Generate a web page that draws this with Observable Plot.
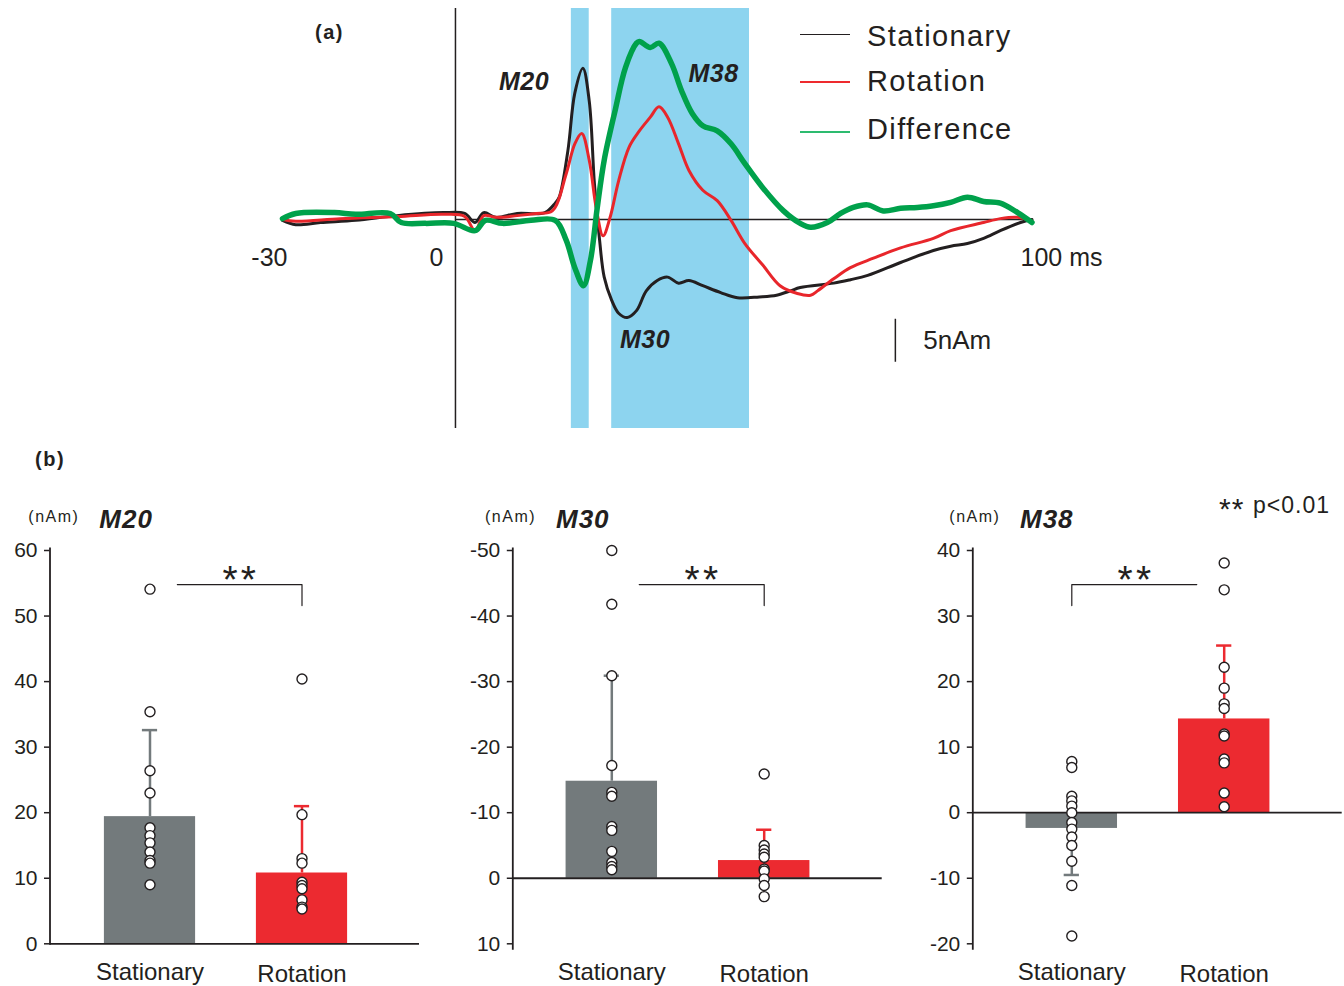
<!DOCTYPE html>
<html>
<head>
<meta charset="utf-8">
<script src="https://cdn.jsdelivr.net/npm/d3@7"></script>
<script src="https://cdn.jsdelivr.net/npm/@observablehq/plot@0.6"></script>
<style>
html,body{margin:0;padding:0;background:#fff;}
#root{position:relative;width:1344px;height:986px;overflow:hidden;font-family:"Liberation Sans",Arial,Helvetica,sans-serif;color:#231f20;}
#root svg{position:absolute;overflow:visible;}
</style>
</head>
<body>
<div id="root"></div>
<script>
// ---------------- Panel (a): time (ms), amplitude (nAm) ----------------
const stationary = [
[-30,-0.1],[-27.7,-0.6],[-23.4,-0.35],[-17.3,-0.1],[-10.1,0.45],[-2.1,0.8],[1.6,0.7],[3.4,-0.35],[4.9,0.8],[7.0,0.25],[10.7,0.7],[15.5,0.8],[17.3,1.9],[18.0,2.6],[19.5,8.0],[20.7,14.7],[22.1,17.6],[23.2,13.8],[24.1,4.2],[25.0,-2.4],[25.8,-6.7],[27.1,-9.4],[28.3,-10.9],[29.8,-11.4],[31.4,-10.6],[33.1,-8.3],[35.0,-7.1],[36.8,-6.7],[38.7,-7.4],[40.5,-7.1],[42.9,-7.7],[46.0,-8.5],[48.9,-9.1],[52.7,-9.0],[55.7,-8.8],[58.1,-8.3],[59.8,-7.9],[65.6,-7.4],[68.5,-7.0],[71.5,-6.5],[77.2,-5.0],[82.9,-3.6],[85.9,-3.1],[88.8,-2.8],[91.6,-2.2],[94.5,-1.3],[98.0,-0.35],[100,0]
];
const rotation = [
[-30,0],[-27.7,-0.2],[-20,0.1],[-10,0.35],[-2,0.6],[1.6,0.35],[3.4,-1.3],[4.9,0.45],[7,0.25],[10.7,0.45],[14,0.7],[16.8,1.0],[19.2,5.3],[20.7,8.8],[21.9,10.0],[23.2,6.9],[24.4,1.4],[25.6,-1.9],[26.8,0.2],[28.3,4.5],[30.1,8.4],[31.9,10.3],[33.8,11.9],[35.3,13.1],[36.8,11.9],[38.7,8.8],[40.5,5.7],[42.9,3.4],[45.4,2.2],[47.8,-0.1],[50.2,-2.8],[53.3,-5.3],[56.3,-7.7],[59.3,-8.6],[61.6,-8.8],[62.8,-8.3],[65.6,-6.9],[68.5,-5.6],[72.5,-4.5],[77.2,-3.3],[82.9,-2.2],[85.9,-1.3],[91.6,-0.35],[94.5,0.1],[97.5,0.25],[100,-0.2]
];
const difference = [
[-30,0.1],[-27.7,0.7],[-21,0.8],[-17.3,0.6],[-11.3,0.7],[-9.4,-0.35],[-5.2,-0.45],[-0.3,-0.45],[3.4,-1.3],[5.2,-0.1],[8.2,-0.45],[13.1,-0.1],[17.3,-0.1],[19.2,-2.4],[20.7,-5.6],[22.2,-7.7],[23.4,-4.8],[24.6,1.4],[25.8,6.9],[27.7,12.7],[29.5,17.7],[31.4,20.5],[31.9,20.7],[33.8,20.0],[35.3,20.5],[37.5,18.1],[39.2,15.0],[41.1,12.3],[42.9,10.9],[45.4,10.3],[47.8,8.8],[50.2,6.5],[53.3,3.7],[56.9,1.0],[59.8,-0.45],[61.6,-0.9],[64.5,-0.35],[66.8,0.7],[69.0,1.4],[71.5,1.7],[74.2,1.0],[77.2,1.3],[80.1,1.4],[82.9,1.6],[85.9,2.0],[88.8,2.6],[91.6,2.1],[94.5,1.9],[97.5,0.8],[100,-0.35]
];
const windows = [{start: 20.1, end: 23.2}, {start: 27.1, end: 51.0}];
const timeTicks = [{value: -30, label: "-30"}, {value: 0, label: "0"}, {value: 100, label: "100 ms"}];
const scaleBar = [{x: 76.3, y1: -11.6, y2: -16.6, label: "5nAm"}];
const seriesNames = ["Stationary", "Rotation", "Difference"];
const peakLabels = ["M20", "M38", "M30"];

// ---------------- Panel (b): per-subject amplitudes (nAm) ----------------
const categories = ["Stationary", "Rotation"];
const m20Means = [19.4, 10.8];
const m20ErrEnds = [32.6, 21.0];
const m20Points = [
  [54.1, 35.4, 26.4, 23.0, 17.7, 16.5, 15.4, 14.0, 12.7, 12.3, 9.0],
  [40.4, 19.7, 13.0, 12.3, 9.4, 8.9, 8.4, 6.7, 5.6, 5.3]
];
const m30Means = [-14.8, -2.7];
const m30ErrEnds = [-30.9, -7.4];
const m30Points = [
  [-50.0, -41.8, -30.9, -17.2, -13.1, -12.5, -7.9, -7.3, -4.1, -2.4, -1.8, -1.3],
  [-15.9, -5.0, -4.3, -3.7, -3.2, -1.4, -1.1, 0.1, 1.1, 2.8]
];
const m38Means = [-2.4, 14.3];
const m38ErrEnds = [-9.5, 25.5];
const m38Points = [
  [7.8, 6.9, 2.5, 1.8, 1.0, 0.0, -1.5, -2.5, -3.7, -5.0, -7.4, -11.1, -18.8],
  [38.1, 34.0, 22.2, 19.0, 16.6, 15.9, 12.0, 11.7, 8.2, 7.6, 3.0, 0.9]
];
const m20Ticks = [0, 10, 20, 30, 40, 50, 60];
const m30Ticks = [-50, -40, -30, -20, -10, 0, 10];
const m38Ticks = [-20, -10, 0, 10, 20, 30, 40];
// significance brackets: [x start, x end, level, drop end]
const m20Bracket = [0.18, 1, 54.8, 51.6];
const m30Bracket = [0.18, 1, -44.8, -41.6];
const m38Bracket = [0, 0.82, 34.8, 31.6];

// ---------------- styling ----------------
const INK = "#231f20";
const lineColors = [INK, "#e8262b", "#00a14b"];
const legendColors = ["#231f20", "#ee2a2e", "#2dbb6f"];
const barColors = ["#737a7c", "#ec2a30"];
const FONT = '"Liberation Sans", Arial, Helvetica, sans-serif';
const root = document.getElementById("root");

function addText(txt, x, baseline, size, o = {}) {
  const d = document.createElement("div");
  d.textContent = txt;
  Object.assign(d.style, {
    position: "absolute", left: x + "px", top: (baseline - 0.8465 * size) + "px",
    fontSize: size + "px", lineHeight: size + "px", whiteSpace: "nowrap",
    fontWeight: o.bold ? "bold" : "normal", fontStyle: o.italic ? "italic" : "normal",
    letterSpacing: (o.ls || 0) + "px", color: INK
  });
  root.appendChild(d);
}
function place(svg, left, top) {
  svg.style.left = left + "px";
  svg.style.top = top + "px";
  root.appendChild(svg);
}

// ---------------- Panel (a) ----------------
const K = 8.6, Y0 = 219;
const rows = (arr) => arr.map(([t, v]) => ({t, v}));
const tickDx = [5, -12, -11.5];
const tickAnchor = ["end", "end", "start"];
const svgA = Plot.plot({
  width: 1344, height: 440,
  marginTop: 8, marginBottom: 12, marginLeft: 0, marginRight: 0,
  x: {domain: [-30, 100], range: [282, 1031.5], axis: null},
  y: {domain: [-20, 20], range: [Y0 + 20 * K, Y0 - 20 * K], axis: null},
  style: {fontFamily: FONT, fontSize: "25px", color: INK, background: "transparent", overflow: "visible"},
  marks: [
    Plot.barX(windows, {x1: "start", x2: "end", fill: "#8dd4ef"}),
    Plot.ruleY([0], {x1: 0, x2: 100, stroke: INK, strokeWidth: 1.5}),
    Plot.ruleX([0], {stroke: INK, strokeWidth: 1.5}),
    Plot.line(rows(stationary), {x: "t", y: "v", stroke: lineColors[0], strokeWidth: 3, curve: "catmull-rom"}),
    Plot.line(rows(rotation), {x: "t", y: "v", stroke: lineColors[1], strokeWidth: 3, curve: "catmull-rom"}),
    Plot.line(rows(difference), {x: "t", y: "v", stroke: lineColors[2], strokeWidth: 5.5, curve: "catmull-rom"}),
    ...timeTicks.map((t, i) => Plot.text([t], {
      x: "value", y: () => 0, text: "label", textAnchor: tickAnchor[i],
      lineAnchor: "bottom", dx: tickDx[i], dy: 46, fontSize: 25, fill: INK
    })),
    Plot.ruleX(scaleBar, {x: "x", y1: "y1", y2: "y2", stroke: INK, strokeWidth: 1.5}),
    Plot.text(scaleBar, {x: "x", y: d => (d.y1 + d.y2) / 2, text: "label", textAnchor: "start", dx: 28, fontSize: 26, fill: INK})
  ]
});
place(svgA, 0, 0);

addText("(a)", 315, 39, 20, {bold: true, ls: 1.5});
addText(peakLabels[0], 499, 90, 25, {bold: true, italic: true, ls: 0.5});
addText(peakLabels[1], 688.5, 81.7, 25, {bold: true, italic: true, ls: 0.5});
addText(peakLabels[2], 620, 348.3, 25, {bold: true, italic: true, ls: 0.5});

// legend
const legendRows = [{top: 34, base: 46.7, h: 1.3}, {top: 81, base: 91.7, h: 2}, {top: 131, base: 140, h: 2.4}];
seriesNames.forEach((name, i) => {
  const ln = document.createElement("div");
  Object.assign(ln.style, {position: "absolute", left: "800px", width: "50px",
    top: legendRows[i].top + "px", height: legendRows[i].h + "px", background: legendColors[i]});
  root.appendChild(ln);
  addText(name, 867, legendRows[i].base, 29, {ls: 1.4});
});

// ---------------- Panel (b) ----------------
addText("(b)", 35, 465.8, 20, {bold: true, ls: 1.5});

function barPanel(o) {
  const groups = categories.map((name, i) => ({i, name, mean: o.means[i], err: o.errs[i], color: barColors[i]}));
  const pts = o.points.flatMap((arr, i) => arr.map(v => ({i, v})));
  const [bx0, bx1, lev, drop] = o.bracket;
  const bracketPts = o.dropLeft
    ? [{x: bx0, y: drop}, {x: bx0, y: lev}, {x: bx1, y: lev}]
    : [{x: bx0, y: lev}, {x: bx1, y: lev}, {x: bx1, y: drop}];
  const frameBottom = o.frameBottom;
  const svg = Plot.plot({
    width: 440, height: 496,
    marginLeft: o.axisX, marginRight: 440 - o.axisEnd, marginTop: 58, marginBottom: 496 - frameBottom,
    x: {domain: [0, 1], range: o.xRange, axis: null},
    y: {domain: o.domain, range: o.yRange, axis: null, label: null},
    color: {type: "identity"},
    style: {fontFamily: FONT, fontSize: "21px", color: INK, background: "transparent", overflow: "visible"},
    marks: [
      Plot.rectY(groups, {x1: d => d.i - 0.3, x2: d => d.i + 0.3, y: "mean", fill: "color"}),
      Plot.ruleY([0], {stroke: INK, strokeWidth: 1.8}),
      Plot.frame({anchor: "left", stroke: INK, strokeWidth: 1.8}),
      Plot.axisY({ticks: o.ticks, tickSize: 5.5, tickPadding: 7, tickFormat: d => String(d),
        label: null, stroke: INK, strokeWidth: 1.5, fontSize: 21, fill: INK}),
      Plot.ruleX(groups, {x: "i", y1: "mean", y2: "err", stroke: "color", strokeWidth: 2.5}),
      Plot.ruleY(groups, {y: "err", x1: d => d.i - 0.05, x2: d => d.i + 0.05, stroke: "color", strokeWidth: 2.5}),
      Plot.dot(pts, {x: "i", y: "v", r: 5, fill: "white", stroke: INK, strokeWidth: 1.4}),
      Plot.line(bracketPts, {x: "x", y: "y", stroke: INK, strokeWidth: 1.2}),
      Plot.text([o.bracket], {x: () => o.starX, y: () => lev, text: () => "*\u200A*", lineAnchor: "bottom", dy: 8.6, fontSize: 39, fill: INK}),
      Plot.text([groups[0]], {x: "i", text: "name", frameAnchor: "bottom", lineAnchor: "bottom", dy: 489.5 - frameBottom, fontSize: 24, fill: INK}),
      Plot.text([groups[1]], {x: "i", text: "name", frameAnchor: "bottom", lineAnchor: "bottom", dy: 491.5 - frameBottom, fontSize: 24, fill: INK})
    ]
  });
  place(svg, o.left, 490);
  addText("(nAm)", o.left + o.unitX, 522.6, 16, {ls: 1.5});
  addText(o.title, o.left + o.titleX, 528.3, 26, {bold: true, italic: true, ls: 1});
}

barPanel({left: 0, title: "M20", unitX: 28.3, titleX: 99.3,
  means: m20Means, errs: m20ErrEnds, points: m20Points, ticks: m20Ticks,
  domain: [0, 60], yRange: [453.3, 60], xRange: [149.5, 301.5],
  axisX: 49.5, axisEnd: 419, frameBottom: 453.3,
  bracket: m20Bracket, dropLeft: false, starX: 0.587});
barPanel({left: 460, title: "M30", unitX: 25, titleX: 96,
  means: m30Means, errs: m30ErrEnds, points: m30Points, ticks: m30Ticks,
  domain: [-50, 10], yRange: [60, 453.3], xRange: [151.3, 303.7],
  axisX: 52.3, axisEnd: 421.7, frameBottom: 458.3,
  bracket: m30Bracket, dropLeft: false, starX: 0.587});
barPanel({left: 920, title: "M38", unitX: 29.3, titleX: 100,
  means: m38Means, errs: m38ErrEnds, points: m38Points, ticks: m38Ticks,
  domain: [-20, 40], yRange: [453.3, 60], xRange: [151.3, 303.7],
  axisX: 52.3, axisEnd: 421.7, frameBottom: 458.3,
  bracket: m38Bracket, dropLeft: true, starX: 0.41});

addText("**", 1219, 519.5, 30, {ls: 1});
addText("p<0.01", 1253, 513, 23, {ls: 1});
</script>
</body>
</html>
